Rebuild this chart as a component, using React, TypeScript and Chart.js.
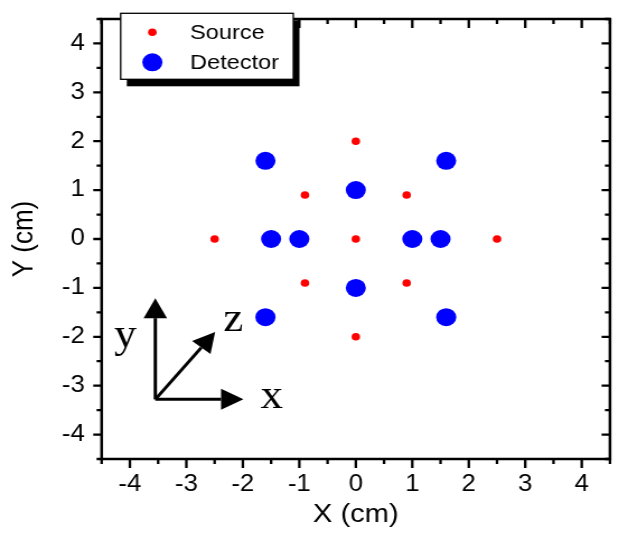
import React, { useEffect, useRef } from 'react';
import { Chart, registerables } from 'chart.js';

Chart.register(...registerables);

// ---- data ----
const sourceX = [0, -0.9, 0.9, -2.5, 0, 2.5, -0.9, 0.9, 0];
const sourceY = [2, 0.9, 0.9, 0, 0, 0, -0.9, -0.9, -2];
const detectorX = [-1.6, 1.6, 0, -1.5, -1, 1, 1.5, 0, -1.6, 1.6];
const detectorY = [1.6, 1.6, 1, 0, 0, 0, 0, -1, -1.6, -1.6];
const xTicks = [-4, -3, -2, -1, 0, 1, 2, 3, 4];
const yTicks = [-4, -3, -2, -1, 0, 1, 2, 3, 4];
const axisMin = -4.5;
const axisMax = 4.5;
const minorStep = 0.5;
const seriesLabels = ['Source', 'Detector'];

// inset coordinate-system sketch (in data units)
const insetOrigin = [-3.55, -3.28];
const insetTips = [
  [-3.55, -1.21], // y
  [-1.99, -3.28], // x
  [-2.49, -1.9], // z
];
const insetText = ['y', 'x', 'z'];
const insetTextPos = [
  [-4.08, -2.0],
  [-1.49, -3.25],
  [-2.17, -1.66],
];

const SANS = "'Liberation Sans', Arial, Helvetica, sans-serif";
const SERIF = "'Liberation Serif', 'Times New Roman', serif";

const framePlugin = {
  id: 'frameTicks',
  beforeDatasetsDraw(chart: any) {
    const { ctx, chartArea: a, scales } = chart;
    const x = scales.x;
    const y = scales.y;
    ctx.save();
    ctx.strokeStyle = '#000';
    ctx.lineWidth = 2.5;
    ctx.strokeRect(a.left, a.top, a.right - a.left, a.bottom - a.top);
    ctx.lineWidth = 2.3;
    ctx.beginPath();
    const n = Math.round((axisMax - axisMin) / minorStep);
    for (let i = 0; i <= n; i++) {
      const v = axisMin + i * minorStep;
      const major = Math.abs(v - Math.round(v)) < 1e-9;
      const lv = major ? 9 : 5;
      const lh = major ? 7.5 : 4.5;
      const px = x.getPixelForValue(v);
      ctx.moveTo(px, a.bottom);
      ctx.lineTo(px, a.bottom + lv);
      ctx.moveTo(px, a.top);
      ctx.lineTo(px, a.top + lv);
      const py = y.getPixelForValue(v);
      ctx.moveTo(a.left, py);
      ctx.lineTo(a.left - lh, py);
      ctx.moveTo(a.right, py);
      ctx.lineTo(a.right - lh, py);
    }
    ctx.stroke();
    ctx.restore();
  },
  afterDatasetsDraw(chart: any) {
    const { ctx, scales } = chart;
    const x = scales.x;
    const y = scales.y;
    const ox = x.getPixelForValue(insetOrigin[0]);
    const oy = y.getPixelForValue(insetOrigin[1]);
    ctx.save();
    ctx.strokeStyle = '#000';
    ctx.fillStyle = '#000';
    ctx.lineWidth = 3;
    insetTips.forEach((t) => {
      const tx = x.getPixelForValue(t[0]);
      const ty = y.getPixelForValue(t[1]);
      const ang = Math.atan2(ty - oy, tx - ox);
      const headLen = 20;
      const headHalf = 10.5;
      const bx = tx - headLen * Math.cos(ang);
      const by = ty - headLen * Math.sin(ang);
      ctx.beginPath();
      ctx.moveTo(ox, oy);
      ctx.lineTo(bx, by);
      ctx.stroke();
      ctx.beginPath();
      ctx.moveTo(tx, ty);
      ctx.lineTo(bx - headHalf * Math.sin(ang), by + headHalf * Math.cos(ang));
      ctx.lineTo(bx + headHalf * Math.sin(ang), by - headHalf * Math.cos(ang));
      ctx.closePath();
      ctx.fill();
    });
    ctx.font = `40px ${SERIF}`;
    ctx.textAlign = 'center';
    ctx.textBaseline = 'middle';
    insetText.forEach((s, i) => {
      ctx.fillText(s, x.getPixelForValue(insetTextPos[i][0]), y.getPixelForValue(insetTextPos[i][1]));
    });
    ctx.restore();
  },
  afterDraw(chart: any) {
    const { ctx } = chart;
    const left = 107.8;
    const top = 13.3;
    const w = 154.2;
    const h = 66;
    ctx.save();
    ctx.fillStyle = '#000';
    ctx.fillRect(left + 5.5, top + 7, w, h);
    ctx.fillStyle = '#fff';
    ctx.fillRect(left, top, w, h);
    ctx.strokeStyle = '#000';
    ctx.lineWidth = 1.3;
    ctx.strokeRect(left, top, w, h);
    ctx.font = `21px ${SANS}`;
    ctx.textAlign = 'left';
    ctx.textBaseline = 'middle';
    chart.data.datasets.forEach((ds: any, i: number) => {
      const cy = top + 19 + i * 30;
      ctx.beginPath();
      ctx.fillStyle = ds.backgroundColor;
      ctx.arc(left + 28.3, cy, ds.pointRadius, 0, Math.PI * 2);
      ctx.fill();
      ctx.fillStyle = '#000';
      ctx.fillText(ds.label, left + 62, cy + 1);
    });
    ctx.restore();
  },
};

export default function App() {
  const ref = useRef<HTMLCanvasElement>(null);
  useEffect(() => {
    const chart = new Chart(ref.current as HTMLCanvasElement, {
      type: 'scatter',
      data: {
        datasets: [
          {
            label: seriesLabels[0],
            data: sourceX.map((v, i) => ({ x: v, y: sourceY[i] })),
            backgroundColor: '#ff0000',
            borderWidth: 0,
            pointRadius: 3.8,
          },
          {
            label: seriesLabels[1],
            data: detectorX.map((v, i) => ({ x: v, y: detectorY[i] })),
            backgroundColor: '#0000ff',
            borderWidth: 0,
            pointRadius: 9,
          },
        ],
      },
      options: {
        responsive: false,
        animation: false,
        devicePixelRatio: 1,
        layout: { padding: { top: 19, right: 16.1, left: 0, bottom: 0 } },
        plugins: { legend: { display: false }, tooltip: { enabled: false } },
        scales: {
          x: {
            type: 'linear',
            min: axisMin,
            max: axisMax,
            afterBuildTicks: (s: any) => {
              s.ticks = xTicks.map((v) => ({ value: v }));
            },
            afterFit: (s: any) => {
              s.height = 82;
              s.paddingLeft = 0;
              s.paddingRight = 0;
              s.paddingTop = 0;
              s.paddingBottom = 0;
            },
            grid: { display: false, drawTicks: false },
            border: { display: false },
            ticks: {
              color: '#000',
              font: { family: SANS, size: 23 },
              padding: 12,
              maxRotation: 0,
              callback: (v: any) => String(v),
            },
            title: {
              display: true,
              text: 'X (cm)',
              color: '#000',
              font: { family: SANS, size: 26 },
              padding: { top: 0, bottom: 10.4 },
            },
          },
          y: {
            type: 'linear',
            min: axisMin,
            max: axisMax,
            afterBuildTicks: (s: any) => {
              s.ticks = yTicks.map((v) => ({ value: v }));
            },
            afterFit: (s: any) => {
              s.width = 90.8;
              s.paddingLeft = 0;
              s.paddingRight = 0;
              s.paddingTop = 0;
              s.paddingBottom = 0;
            },
            grid: { display: false, drawTicks: false },
            border: { display: false },
            ticks: {
              color: '#000',
              font: { family: SANS, size: 23 },
              padding: 15,
              callback: (v: any) => String(v),
            },
            title: {
              display: true,
              text: 'Y (cm)',
              color: '#000',
              font: { family: SANS, size: 26 },
              padding: { top: 6.7, bottom: 0 },
            },
          },
        },
      } as any,
      plugins: [framePlugin],
    });
    return () => chart.destroy();
  }, []);
  return (
    <div style={{ position: 'absolute', left: 0, top: 0, width: 628, height: 541, background: '#fff' }}>
      <canvas ref={ref} width={561} height={541} style={{ width: '628px', height: '541px', display: 'block' }} />
    </div>
  );
}
